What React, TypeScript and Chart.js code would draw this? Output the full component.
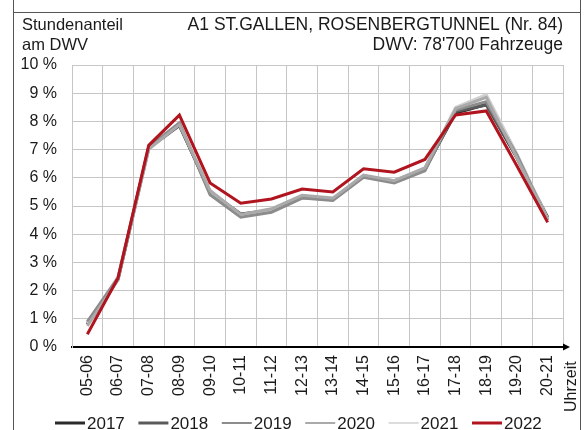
import React, { useEffect, useRef } from "react";
import { Chart, registerables } from "chart.js";

Chart.register(...registerables);

const categories = ["05-06", "06-07", "07-08", "08-09", "09-10", "10-11", "11-12", "12-13", "13-14", "14-15", "15-16", "16-17", "17-18", "18-19", "19-20", "20-21"];
const yTicks = [0, 1, 2, 3, 4, 5, 6, 7, 8, 9, 10];

const s2017 = [0.8, 2.4, 7.05, 7.85, 5.5, 4.72, 4.85, 5.35, 5.25, 6.05, 5.88, 6.3, 8.3, 8.6, 6.7, 4.6];
const s2018 = [0.85, 2.42, 7.08, 7.9, 5.45, 4.65, 4.8, 5.3, 5.22, 6.08, 5.85, 6.28, 8.35, 8.58, 6.75, 4.55];
const s2019 = [0.9, 2.45, 7.1, 7.95, 5.4, 4.6, 4.78, 5.28, 5.2, 6.02, 5.82, 6.25, 8.4, 8.7, 6.8, 4.5];
const s2020 = [0.75, 2.38, 7.02, 7.88, 5.55, 4.7, 4.9, 5.38, 5.28, 6.1, 5.9, 6.35, 8.45, 8.85, 6.7, 4.5];
const s2021 = [0.85, 2.5, 7.0, 7.95, 5.5, 4.68, 4.85, 5.35, 5.25, 6.05, 5.9, 6.35, 8.5, 8.95, 6.85, 4.55];
const s2022 = [0.45, 2.45, 7.15, 8.22, 5.82, 5.1, 5.25, 5.6, 5.5, 6.32, 6.2, 6.65, 8.23, 8.37, 6.42, 4.42];

const seriesNames = ["2017", "2018", "2019", "2020", "2021", "2022"];
const seriesData = [s2017, s2018, s2019, s2020, s2021, s2022];
const seriesColors = ["#2a2a2a", "#5a5a5a", "#8c8c8c", "#aaaaaa", "#d0d0d0", "#b0141e"];
const seriesWidths = [3, 3, 3, 3, 3, 3];
const legendWidths = [3, 3, 2, 2, 1.5, 3];
const seriesOrder = [5, 4, 2, 1, 3, 0];

const titleLeft = ["Stundenanteil", "am DWV"];
const titleRight = ["A1 ST.GALLEN, ROSENBERGTUNNEL (Nr. 84)", "DWV: 78'700 Fahrzeuge"];
const axisName = "Uhrzeit";

const FONT = "Arial, 'Liberation Sans', sans-serif";

const decor = {
  id: "decor",
  afterDraw(chart: any) {
    const ctx = chart.ctx;
    const { right, bottom } = chart.chartArea;
    ctx.save();
    // frame
    ctx.strokeStyle = "#555";
    ctx.lineWidth = 1;
    ctx.beginPath();
    ctx.moveTo(13.5, 0);
    ctx.lineTo(13.5, 430);
    ctx.moveTo(580.5, 0);
    ctx.lineTo(580.5, 430);
    ctx.moveTo(13, 12.5);
    ctx.lineTo(581, 12.5);
    ctx.stroke();
    // titles
    ctx.fillStyle = "#1a1a1a";
    ctx.textBaseline = "alphabetic";
    ctx.textAlign = "left";
    ctx.font = `16.5px ${FONT}`;
    ctx.fillText(titleLeft[0], 22, 30);
    ctx.fillText(titleLeft[1], 22, 50);
    ctx.textAlign = "right";
    ctx.font = `17.5px ${FONT}`;
    ctx.fillText(titleRight[0], 563, 30);
    ctx.fillText(titleRight[1], 563, 50);
    // arrow
    ctx.strokeStyle = "#000";
    ctx.lineWidth = 2;
    ctx.beginPath();
    ctx.moveTo(right - 2, bottom);
    ctx.lineTo(right + 3, bottom);
    ctx.stroke();
    ctx.fillStyle = "#000";
    ctx.beginPath();
    ctx.moveTo(right + 7, bottom);
    ctx.lineTo(right, bottom - 3.5);
    ctx.lineTo(right, bottom + 3.5);
    ctx.closePath();
    ctx.fill();
    // axis name
    ctx.save();
    ctx.translate(572, 412);
    ctx.rotate(-Math.PI / 2);
    ctx.fillStyle = "#1a1a1a";
    ctx.font = `16px ${FONT}`;
    ctx.textAlign = "left";
    ctx.textBaseline = "middle";
    ctx.fillText(axisName, 0, 0);
    ctx.restore();
    // legend
    ctx.font = `17px ${FONT}`;
    ctx.textAlign = "left";
    ctx.textBaseline = "alphabetic";
    seriesNames.forEach((name, i) => {
      const x0 = 55 + i * 83.4;
      ctx.strokeStyle = seriesColors[i];
      ctx.lineWidth = legendWidths[i];
      ctx.beginPath();
      ctx.moveTo(x0, 423);
      ctx.lineTo(x0 + 30, 423);
      ctx.stroke();
      ctx.fillStyle = "#1a1a1a";
      ctx.fillText(name, x0 + 32, 429);
    });
    ctx.restore();
  },
};

export default function App() {
  const ref = useRef<HTMLCanvasElement | null>(null);
  useEffect(() => {
    if (!ref.current) return;
    const chart = new Chart(ref.current, {
      type: "line",
      data: {
        labels: categories,
        datasets: seriesNames.map((name, i) => ({
          label: name,
          data: seriesData[i],
          borderColor: seriesColors[i],
          backgroundColor: seriesColors[i],
          borderWidth: seriesWidths[i],
          pointRadius: 0,
          tension: 0,
          order: seriesOrder[i],
        })),
      },
      options: {
        animation: false,
        responsive: false,
        devicePixelRatio: 1,
        layout: { padding: { left: 0, right: 21, top: 65, bottom: 0 } },
        plugins: { legend: { display: false }, tooltip: { enabled: false }, title: { display: false } },
        scales: {
          x: {
            type: "category",
            offset: true,
            grid: { offset: true, color: "#c6c6c6", lineWidth: 1, drawTicks: false },
            border: { color: "#000", width: 2 },
            ticks: {
              color: "#1a1a1a",
              font: { size: 16, family: FONT },
              minRotation: 90,
              maxRotation: 90,
              padding: 8,
              autoSkip: false,
            },
            afterFit: (s: any) => {
              s.height = 83;
            },
          },
          y: {
            min: yTicks[0],
            max: yTicks[yTicks.length - 1],
            afterBuildTicks: (s: any) => {
              s.ticks = yTicks.map((v) => ({ value: v }));
            },
            grid: { color: "#c6c6c6", lineWidth: 1, drawTicks: false },
            border: { color: "#c6c6c6", width: 1 },
            ticks: {
              color: "#1a1a1a",
              font: { size: 16, family: FONT },
              padding: 15,
              callback: (v: any) => `${v} %`,
            },
            afterFit: (s: any) => {
              s.width = 72;
            },
          },
        },
      },
      plugins: [decor],
    });
    return () => chart.destroy();
  }, []);
  return (
    <div style={{ position: "absolute", left: 0, top: 0, width: 584, height: 430, background: "#fff" }}>
      <canvas ref={ref} width={584} height={430} style={{ display: "block" }} />
    </div>
  );
}
